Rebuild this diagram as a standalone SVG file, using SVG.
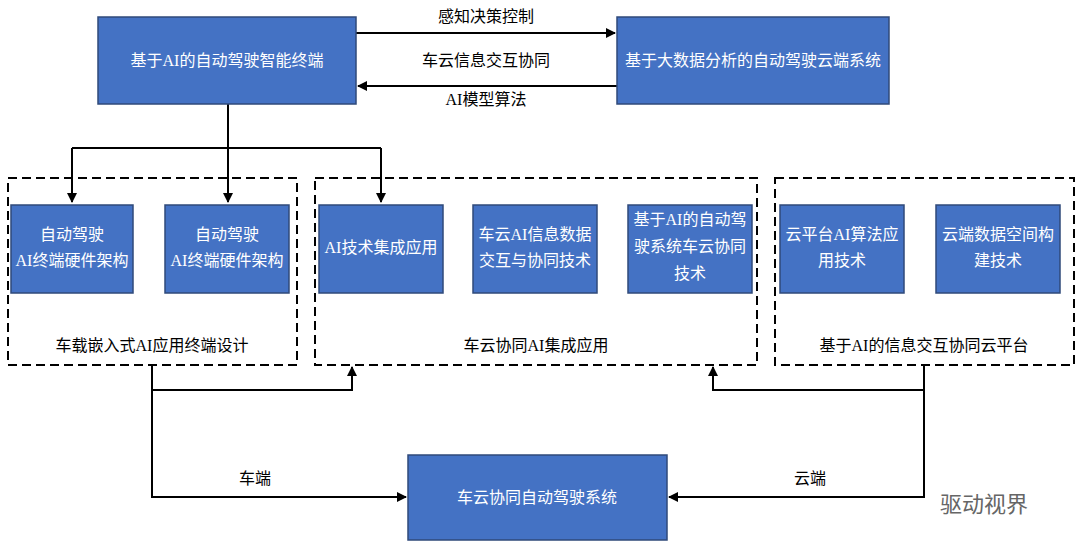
<svg xmlns="http://www.w3.org/2000/svg" width="1080" height="550" viewBox="0 0 1080 550">
<style>
.b{fill:#4472C4;stroke:#2F4A7A;stroke-width:1.5}
.t{font-family:"Liberation Serif","Noto Sans CJK SC",serif;font-size:16px;fill:#fff;text-anchor:middle}
.k{font-family:"Liberation Serif","Noto Sans CJK SC",serif;font-size:16px;fill:#000;text-anchor:middle}
.g{fill:none;stroke:#000;stroke-width:2;stroke-dasharray:9,5}
.l{fill:none;stroke:#000;stroke-width:2}
</style>
<defs><marker id="a" markerWidth="10" markerHeight="10" refX="9" refY="5" orient="auto" markerUnits="userSpaceOnUse"><path d="M0,0L10,5L0,10z" fill="#000"/></marker></defs>
<rect width="1080" height="550" fill="#fff"/>
<g id="connectors">
<path class="l" d="M356,33H615" marker-end="url(#a)"/>
<path class="l" d="M617,86H358" marker-end="url(#a)"/>
<path class="l" d="M228,104V148M72,148H381"/>
<path class="l" d="M72,148V202" marker-end="url(#a)"/>
<path class="l" d="M228,148V202" marker-end="url(#a)"/>
<path class="l" d="M381,148V202" marker-end="url(#a)"/>
<path class="l" d="M152,365V497H406" marker-end="url(#a)"/>
<path class="l" d="M152,390H352V367" marker-end="url(#a)"/>
<path class="l" d="M924,365V497H669" marker-end="url(#a)"/>
<path class="l" d="M924,390H713V367" marker-end="url(#a)"/>
<text class="k" x="486" y="22">感知决策控制</text>
<text class="k" x="486" y="66">车云信息交互协同</text>
<text class="k" x="486" y="105">AI模型算法</text>
<text class="k" x="255" y="484">车端</text>
<text class="k" x="810" y="484">云端</text>
</g>
<g id="n1"><rect class="b" x="98" y="17" width="258" height="87"/><text class="t" x="227" y="66">基于AI的自动驾驶智能终端</text></g>
<g id="n2"><rect class="b" x="617" y="17" width="272" height="87"/><text class="t" x="753" y="66">基于大数据分析的自动驾驶云端系统</text></g>
<g id="g1"><rect class="g" x="8" y="178" width="289" height="187"/><text class="k" x="152" y="351">车载嵌入式AI应用终端设计</text></g>
<g id="g2"><rect class="g" x="315" y="178" width="442" height="187"/><text class="k" x="536" y="351">车云协同AI集成应用</text></g>
<g id="g3"><rect class="g" x="775" y="178" width="299" height="187"/><text class="k" x="924" y="351">基于AI的信息交互协同云平台</text></g>
<g id="b1"><rect class="b" x="11" y="205" width="122" height="88"/><text class="t" x="72" y="240">自动驾驶</text><text class="t" x="72" y="266">AI终端硬件架构</text></g>
<g id="b2"><rect class="b" x="165" y="205" width="124" height="88"/><text class="t" x="227" y="240">自动驾驶</text><text class="t" x="227" y="266">AI终端硬件架构</text></g>
<g id="b3"><rect class="b" x="319" y="205" width="124" height="88"/><text class="t" x="381" y="253">AI技术集成应用</text></g>
<g id="b4"><rect class="b" x="473" y="205" width="124" height="88"/><text class="t" x="535" y="240">车云AI信息数据</text><text class="t" x="535" y="266">交互与协同技术</text></g>
<g id="b5"><rect class="b" x="628" y="205" width="124" height="88"/><text class="t" x="690" y="225">基于AI的自动驾</text><text class="t" x="690" y="252">驶系统车云协同</text><text class="t" x="690" y="279">技术</text></g>
<g id="b6"><rect class="b" x="780" y="205" width="124" height="88"/><text class="t" x="842" y="240">云平台AI算法应</text><text class="t" x="842" y="266">用技术</text></g>
<g id="b7"><rect class="b" x="936" y="205" width="124" height="88"/><text class="t" x="998" y="240">云端数据空间构</text><text class="t" x="998" y="266">建技术</text></g>
<g id="n3"><rect class="b" x="408" y="455" width="259" height="85"/><text class="t" x="537" y="503">车云协同自动驾驶系统</text></g>
<text x="940" y="512" font-family="'Noto Sans CJK SC',sans-serif" font-size="22" fill="#666">驱动视界</text>
</svg>
